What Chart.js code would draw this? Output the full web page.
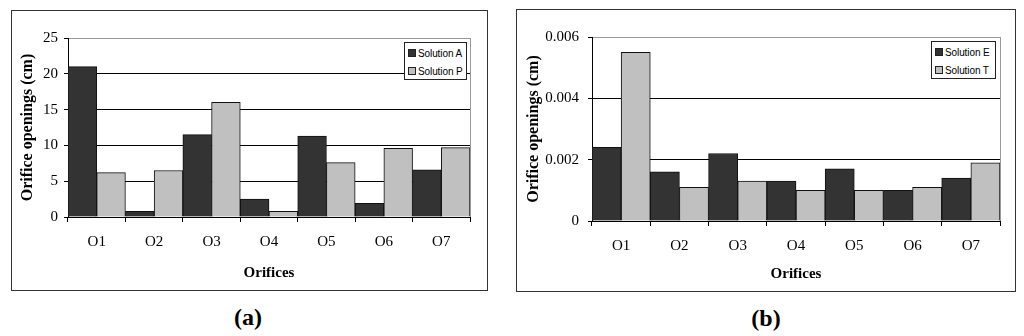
<!DOCTYPE html>
<html>
<head>
<meta charset="utf-8">
<script src="https://cdn.jsdelivr.net/npm/chart.js@4.4.1/dist/chart.umd.min.js"></script>
<style>
body { margin: 0; background: #fff; width: 1024px; height: 336px; position: relative; overflow: hidden; }
.frame { position: absolute; border: 1px solid #333; box-sizing: border-box; background: #fff; }
.frame canvas { position: absolute; left: 0; top: 0; }
.legend { position: absolute; border: 1px solid #222; background: #fff; box-sizing: border-box;
  font-family: "Liberation Sans", Arial, sans-serif; font-size: 10px; letter-spacing: -0.1px; color: #000; padding: 2px 0 0 3px; }
.legend div { height: 18px; line-height: 18px; white-space: nowrap; }
.legend span.sw { display: inline-block; width: 6px; height: 6px; border: 1px solid #222; margin-right: 2px; vertical-align: 0px; }
.cap { position: absolute; font-family: "Liberation Serif", "Times New Roman", serif; font-weight: bold; font-size: 24px; transform: translate(-50%, -50%); }
</style>
</head>
<body>
<div class="frame" id="fa" style="left:11px; top:10px; width:477px; height:281px;">
  <canvas id="graph1"></canvas>
</div>
<div class="frame" id="fb" style="left:516px; top:9px; width:500px; height:283px;">
  <canvas id="graph2"></canvas>
</div>
<div class="legend" id="leg1" style="left:404px; top:42px; width:63px; height:38px;"></div>
<div class="legend" id="leg2" style="left:931px; top:41px; width:65px; height:38px;"></div>
<div class="cap" style="left:248px; top:317px;">(a)</div>
<div class="cap" style="left:766px; top:318px;">(b)</div>

<script>
// donnees
var categories = ['O1', 'O2', 'O3', 'O4', 'O5', 'O6', 'O7'];
var solutionA = [21, 0.8, 11.5, 2.5, 11.3, 1.9, 6.6];
var solutionP = [6.2, 6.5, 16, 0.8, 7.6, 9.6, 9.7];
var solutionE = [0.0024, 0.0016, 0.0022, 0.0013, 0.0017, 0.001, 0.0014];
var solutionT = [0.0055, 0.0011, 0.0013, 0.001, 0.001, 0.0011, 0.0019];
var ticksGauche = [0, 5, 10, 15, 20, 25];
var ticksDroite = [0, 0.002, 0.004, 0.006];
var legende1 = ['Solution A', 'Solution P'];
var legende2 = ['Solution E', 'Solution T'];

var fonce = '#333333';
var clair = '#c0c0c0';
var serif = '"Liberation Serif", "Times New Roman", serif';

// bordure droite grise de la zone de trace
var bordDroit = {
    id: 'bordDroit',
    afterDraw: function (chart) {
        var a = chart.chartArea, ctx = chart.ctx;
        ctx.save();
        ctx.strokeStyle = '#999';
        ctx.lineWidth = 1;
        ctx.beginPath();
        ctx.moveTo(Math.round(a.right) + 0.5, a.top);
        ctx.lineTo(Math.round(a.right) + 0.5, a.bottom);
        ctx.stroke();
        ctx.restore();
    }
};

function faireGraph(id, w, h, labels, d1, d2, yTicks, yMax, layout) {
    var canvas = document.getElementById(id);
    canvas.width = w;
    canvas.height = h;
    canvas.style.width = w + 'px';
    canvas.style.height = h + 'px';
    var ctx = canvas.getContext('2d');
    var config = {
        type: 'bar',
        data: {
            labels: categories,
            datasets: [{
                label: labels[0],
                data: d1,
                backgroundColor: fonce,
                borderColor: '#111',
                borderWidth: 1,
                barPercentage: 1,
                categoryPercentage: 1
            }, {
                label: labels[1],
                data: d2,
                backgroundColor: clair,
                borderColor: '#111',
                borderWidth: 1,
                barPercentage: 1,
                categoryPercentage: 1
            }]
        },
        options: {
            responsive: false,
            animation: false,
            layout: { padding: { top: layout.top, right: layout.right, left: 0, bottom: 0 } },
            plugins: { legend: { display: false }, tooltip: { enabled: false } },
            scales: {
                x: {
                    grid: { display: true, offset: true, drawOnChartArea: false, drawTicks: true, tickLength: 5, tickColor: '#000' },
                    border: { display: true, color: '#000', width: 1 },
                    ticks: { color: '#000', font: { family: serif, size: 15 }, padding: 11, maxRotation: 0 },
                    title: { display: true, text: 'Orifices', color: '#000', font: { family: serif, size: 15, weight: 'bold' }, padding: { top: 0, bottom: 8 } },
                    afterFit: function (scale) { scale.height = layout.bottom; }
                },
                y: {
                    min: 0,
                    max: yMax,
                    afterBuildTicks: function (scale) {
                        scale.ticks = yTicks.map(function (v) { return { value: v }; });
                    },
                    grid: {
                        color: function (c) { return c.tick && c.tick.value === yMax ? '#999' : '#000'; },
                        tickColor: '#000',
                        tickLength: 4,
                        lineWidth: 1
                    },
                    border: { display: true, color: '#000', width: 1 },
                    ticks: {
                        color: '#000',
                        font: { family: serif, size: 15 },
                        padding: layout.tickPad,
                        callback: function (v) { return String(v); }
                    },
                    title: { display: true, text: 'Orifice openings (cm)', color: '#000', font: { family: serif, size: 16, weight: 'bold' }, padding: { top: layout.titlePad, bottom: 0 } },
                    afterFit: function (scale) { scale.width = layout.left; }
                }
            }
        },
        plugins: [bordDroit]
    };
    return new Chart(ctx, config);
}

function faireLegende(id, labels) {
    var el = document.getElementById(id);
    var couleurs = [fonce, clair];
    for (var i = 0; i < labels.length; i++) {
        var ligne = document.createElement('div');
        var sw = document.createElement('span');
        sw.className = 'sw';
        sw.style.background = couleurs[i];
        ligne.appendChild(sw);
        ligne.appendChild(document.createTextNode(labels[i]));
        el.appendChild(ligne);
    }
}

var graph1 = faireGraph('graph1', 475, 279, legende1, solutionA, solutionP, ticksGauche, 25,
    { left: 56, right: 17, top: 27, bottom: 73, tickPad: 6, titlePad: 6 });
var graph2 = faireGraph('graph2', 498, 281, legende2, solutionE, solutionT, ticksDroite, 0.006,
    { left: 75, right: 15, top: 27, bottom: 70, tickPad: 9, titlePad: 7 });

faireLegende('leg1', legende1);
faireLegende('leg2', legende2);
</script>
</body>
</html>
